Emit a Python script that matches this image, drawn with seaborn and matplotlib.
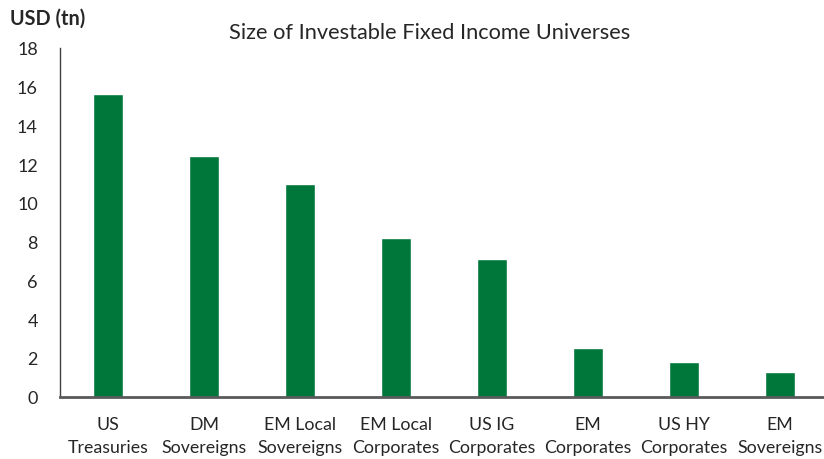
import pandas as pd
import seaborn as sns
import matplotlib.pyplot as plt

# Data
categories = ["US\nTreasuries", "DM\nSovereigns", "EM Local\nSovereigns", "EM Local\nCorporates",
              "US IG\nCorporates", "EM\nCorporates", "US HY\nCorporates", "EM\nSovereigns"]
size_tn = [15.6, 12.4, 11.0, 8.2, 7.1, 2.5, 1.8, 1.25]
y_ticks = [0, 2, 4, 6, 8, 10, 12, 14, 16, 18]

df = pd.DataFrame({"Universe": categories, "Size": size_tn})

sns.set_style("white")
plt.rcParams["font.family"] = ["Lato", "DejaVu Sans"]

fig = plt.figure(figsize=(8.24, 4.6), dpi=100)
ax = fig.add_axes([60 / 824, 1 - 397.5 / 460, 768 / 824, (397.5 - 49) / 460])

sns.barplot(data=df, x="Universe", y="Size", color="#00773A", width=0.31,
            saturation=1, ax=ax)

ax.set_ylim(0, 18)
ax.set_xlim(-0.5, 7.5)
ax.set_yticks(y_ticks)
ax.set_xlabel("")
ax.set_ylabel("")
ax.tick_params(axis="y", length=0, pad=16, labelsize=13, labelcolor="#262626")
ax.tick_params(axis="x", length=0, pad=14, labelsize=12.8, labelcolor="#262626")
for lbl in ax.get_xticklabels():
    lbl.set_linespacing(1.55)

sns.despine(ax=ax, top=True, right=True)
ax.spines["left"].set_color("#404040")
ax.spines["left"].set_linewidth(1.0)
ax.spines["bottom"].set_color("#595959")
ax.spines["bottom"].set_linewidth(2.0)

fig.text(430 / 824, 1 - 33 / 460, "Size of Investable Fixed Income Universes",
         ha="center", va="center", fontsize=15.7, color="#262626")
fig.text(10 / 824, 1 - 19 / 460, "USD (tn)", ha="left", va="center",
         fontsize=14.3, fontweight="bold", color="#262626")

fig.savefig("out.png", dpi=100)
